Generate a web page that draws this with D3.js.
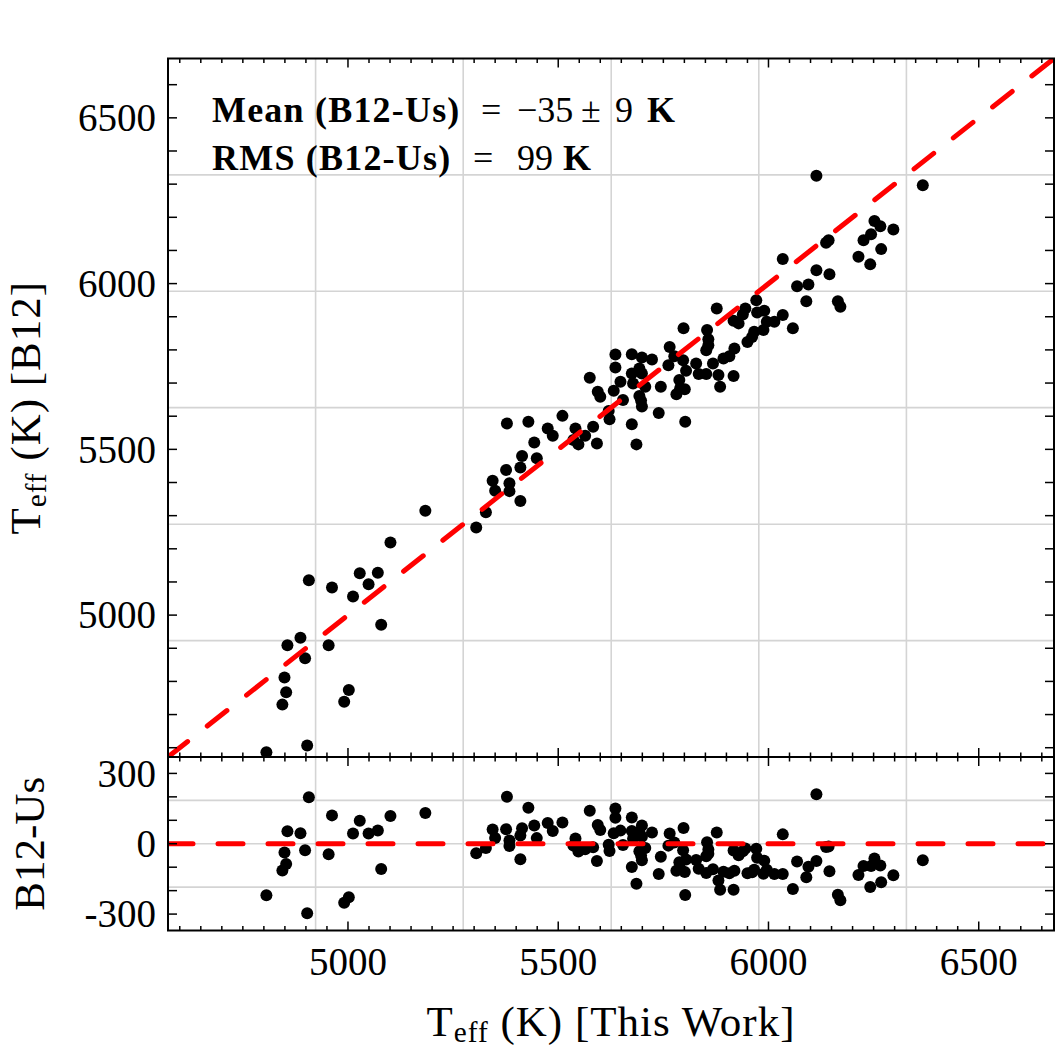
<!DOCTYPE html>
<html>
<head>
<meta charset="utf-8">
<script src="https://cdn.jsdelivr.net/npm/d3@7"></script>
<style>
  html, body { margin: 0; padding: 0; background: #fff; }
  svg { display: block; }
</style>
</head>
<body>
<script>
// ---------------- data ----------------
const thisWork = [
  5184,5101,5028,5071,5049,5012,4907,4962,5079,4887,4856,4954,4898,4849,4853,4844,5002,4991,4903,4806,
  5305,5328,5344,5350,5376,5384,5384,5410,5410,5414,5449,5443,5378,5429,5475,5487,5510,5541,5536,5548,
  5564,5583,5592,5575,5594,5600,5620,5622,5636,5636,5675,5648,5632,5654,5675,5678,5675,5686,
  5699,5723,5693,5699,5707,5693,5697,5699,5744,5739,5765,5762,5776,5797,5798,5804,5788,5790,5781,5801,
  5802,5828,5834,5852,5854,5857,5857,5852,5868,5877,5881,5885,5893,5907,5919,5917,5917,5929,5945,5939,
  5971,5973,5990,5966,5961,5950,5988,5996,6014,
  6114,6367,6252,6266,6297,6244,6226,6268,6214,6242,6143,6137,6034,6114,6145,6068,6095,6090,6165,6171,
  6058,6034
];
const b12 = [
  5315,5219,5126,5128,5093,5056,5105,5083,4971,4932,4909,4909,4870,4812,4767,4730,4774,4739,4607,4586,
  5264,5310,5405,5375,5438,5398,5374,5344,5445,5480,5473,5521,5578,5583,5563,5541,5601,5563,5528,5515,
  5541,5568,5518,5716,5674,5659,5616,5591,5786,5747,5787,5704,5677,5649,5729,5699,5576,5515,
  5777,5771,5744,5729,5689,5661,5647,5629,5689,5610,5809,5754,5781,5769,5865,5737,5709,5684,5666,5681,
  5583,5759,5727,5727,5860,5832,5814,5799,5759,5925,5724,5689,5774,5781,5804,5721,5888,5880,5925,5907,
  5950,5913,5918,5855,5839,5824,5860,5885,5885,
  6325,6297,6189,6173,6163,6149,6131,6104,6081,6058,6131,6123,6074,6040,6028,5992,5997,5947,5947,5930,
  5865,5905
];
const residual = b12.map((v, i) => v - thisWork[i]);   // B12 - Us

const tempDomain = [4572, 6679];
const resDomain = [-370, 370];
const tempMajor = [5000, 5500, 6000, 6500];
const tempMajorLabels = ["5000", "5500", "6000", "6500"];
const xMinor = d3.range(4600, 6679, 50);
const yTickVals = d3.range(4600, 6679, 100);
const resMajor = [-300, 0, 300];
const resMajorLabels = ["-300", "0", "300"];
const resTickVals = d3.range(-300, 301, 100);
const tempGrid = [4923, 5274, 5626, 5977, 6328];
const resGrid = [-185, 0, 185];
const statLines = [
  {name: "Mean (B12-Us)", parts: ["=", "\u221235", "\u00B1", "9"], unit: "K"},
  {name: "RMS (B12-Us)", parts: ["=", "99"], unit: "K"}
];

// ---------------- layout ----------------
const W = 1059, H = 1050;
const L = 168, R = 1054, T = 58.5, M = 757, B = 930.5;
const FONT = "'Liberation Serif', 'Times New Roman', serif";

const svg = d3.select("body").append("svg").attr("width", W).attr("height", H)
  .style("font-family", FONT);

const x = d3.scaleLinear().domain(tempDomain).range([L, R]);
const yT = d3.scaleLinear().domain(tempDomain).range([M, T]);
const yB = d3.scaleLinear().domain(resDomain).range([B, M]);

const defs = svg.append("defs");
defs.append("clipPath").attr("id", "clipTop").append("rect")
  .attr("x", L).attr("y", T).attr("width", R - L).attr("height", M - T);
defs.append("clipPath").attr("id", "clipBot").append("rect")
  .attr("x", L).attr("y", M).attr("width", R - L).attr("height", B - M);

const GRID = "#d4d4d4";

// ---------- top panel ----------
const topG = svg.append("g");
topG.selectAll("line.gx").data(tempGrid).join("line")
  .attr("x1", d => x(d)).attr("x2", d => x(d)).attr("y1", T).attr("y2", M)
  .attr("stroke", GRID).attr("stroke-width", 1.6);
topG.selectAll("line.gy").data(tempGrid).join("line")
  .attr("y1", d => yT(d)).attr("y2", d => yT(d)).attr("x1", L).attr("x2", R)
  .attr("stroke", GRID).attr("stroke-width", 1.6);

const topPlot = topG.append("g").attr("clip-path", "url(#clipTop)");
topPlot.selectAll("circle").data(thisWork).join("circle")
  .attr("cx", d => x(d)).attr("cy", (d, i) => yT(b12[i])).attr("r", 6).attr("fill", "#000");
topPlot.append("line")
  .attr("x1", x(tempDomain[0])).attr("y1", yT(tempDomain[0]))
  .attr("x2", x(tempDomain[1])).attr("y2", yT(tempDomain[1]))
  .attr("stroke", "#ff0000").attr("stroke-width", 5).attr("stroke-dasharray", "25,25")
  .attr("stroke-linecap", "round");

// ---------- bottom panel ----------
const botG = svg.append("g");
botG.selectAll("line.gx").data(tempGrid).join("line")
  .attr("x1", d => x(d)).attr("x2", d => x(d)).attr("y1", M).attr("y2", B)
  .attr("stroke", GRID).attr("stroke-width", 1.6);
botG.selectAll("line.gy").data(resGrid).join("line")
  .attr("y1", d => yB(d)).attr("y2", d => yB(d)).attr("x1", L).attr("x2", R)
  .attr("stroke", GRID).attr("stroke-width", 1.6);
const botPlot = botG.append("g").attr("clip-path", "url(#clipBot)");
botPlot.selectAll("circle").data(thisWork).join("circle")
  .attr("cx", d => x(d)).attr("cy", (d, i) => yB(residual[i])).attr("r", 6).attr("fill", "#000");
botPlot.append("line")
  .attr("x1", x(tempDomain[0])).attr("y1", yB(0))
  .attr("x2", x(tempDomain[1])).attr("y2", yB(0))
  .attr("stroke", "#ff0000").attr("stroke-width", 5).attr("stroke-dasharray", "25,25")
  .attr("stroke-linecap", "round");

// ---------- ticks (inward, all sides) ----------
const MAJ = 9, MIN = 4.5, YT = 9, TW = 1.5;
function xTicks(g, vals, len, yEdge, dir) {
  g.selectAll(null).data(vals).join("line")
    .attr("x1", d => x(d)).attr("x2", d => x(d))
    .attr("y1", yEdge).attr("y2", yEdge + dir * len)
    .attr("stroke", "#000").attr("stroke-width", TW);
}
function yTicks(g, scale, vals, len, xEdge, dir) {
  g.selectAll(null).data(vals).join("line")
    .attr("y1", d => scale(d)).attr("y2", d => scale(d))
    .attr("x1", xEdge).attr("x2", xEdge + dir * len)
    .attr("stroke", "#000").attr("stroke-width", TW);
}
const tk = svg.append("g");
const xMinorOnly = xMinor.filter(v => !tempMajor.includes(v));
// top panel
xTicks(tk, tempMajor, MAJ, T, 1); xTicks(tk, xMinorOnly, MIN, T, 1);
xTicks(tk, tempMajor, MAJ, M, -1); xTicks(tk, xMinorOnly, MIN, M, -1);
yTicks(tk, yT, yTickVals, YT, L, 1);
yTicks(tk, yT, yTickVals, YT, R, -1);
// bottom panel
xTicks(tk, tempMajor, MAJ, M, 1); xTicks(tk, xMinorOnly, MIN, M, 1);
xTicks(tk, tempMajor, MAJ, B, -1); xTicks(tk, xMinorOnly, MIN, B, -1);
yTicks(tk, yB, resTickVals, YT, L, 1);
yTicks(tk, yB, resTickVals, YT, R, -1);

// frames
svg.append("rect").attr("x", L).attr("y", T).attr("width", R - L).attr("height", M - T)
  .attr("fill", "none").attr("stroke", "#000").attr("stroke-width", 2);
svg.append("rect").attr("x", L).attr("y", M).attr("width", R - L).attr("height", B - M)
  .attr("fill", "none").attr("stroke", "#000").attr("stroke-width", 2);

// ---------- tick labels ----------
const TL = 39;
svg.append("g").selectAll("text").data(tempMajor).join("text")
  .attr("x", 156).attr("y", d => yT(d)).attr("dy", "0.34em")
  .attr("text-anchor", "end").attr("font-size", TL)
  .text((d, i) => tempMajorLabels[i]);
svg.append("g").selectAll("text").data(resMajor).join("text")
  .attr("x", 156).attr("y", d => yB(d)).attr("dy", "0.34em")
  .attr("text-anchor", "end").attr("font-size", TL)
  .text((d, i) => resMajorLabels[i]);
svg.append("g").selectAll("text").data(tempMajor).join("text")
  .attr("x", d => x(d)).attr("y", 975)
  .attr("text-anchor", "middle").attr("font-size", TL)
  .text((d, i) => tempMajorLabels[i]);

// ---------- axis labels ----------
function teffLabel(sel, rest) {
  sel.append("tspan").text("T");
  sel.append("tspan").attr("font-size", "0.68em").attr("dy", "0.22em").text("eff");
  sel.append("tspan").attr("dy", "-0.15em").text(" (K) " + rest);
}
const yl = svg.append("text").attr("font-size", 43).attr("letter-spacing", 1)
  .attr("text-anchor", "middle")
  .attr("transform", `translate(40,${(T + M) / 2}) rotate(-90)`);
teffLabel(yl, "[B12]");
svg.append("text").attr("font-size", 43).attr("text-anchor", "middle")
  .attr("transform", `translate(44,${(M + B) / 2}) rotate(-90)`)
  .text("B12-Us");
const xl = svg.append("text").attr("font-size", 43).attr("letter-spacing", 1)
  .attr("text-anchor", "middle").attr("x", (L + R) / 2).attr("y", 1036);
teffLabel(xl, "[This Work]");

// ---------- annotation ----------
const ann = svg.append("g");
const annY = [122, 170];
const partX = [[481, 517, 581, 615], [473, 517]];
const unitX = [647, 563];
statLines.forEach((s, i) => {
  const t = ann.append("text").attr("x", 212).attr("y", annY[i]).attr("font-size", 36);
  t.append("tspan").attr("font-weight", "bold").attr("letter-spacing", 1.2).text(s.name);
  s.parts.forEach((p, j) => t.append("tspan").attr("x", partX[i][j]).text(p));
  t.append("tspan").attr("x", unitX[i]).attr("font-weight", "bold").text(s.unit);
});
</script>
</body>
</html>
